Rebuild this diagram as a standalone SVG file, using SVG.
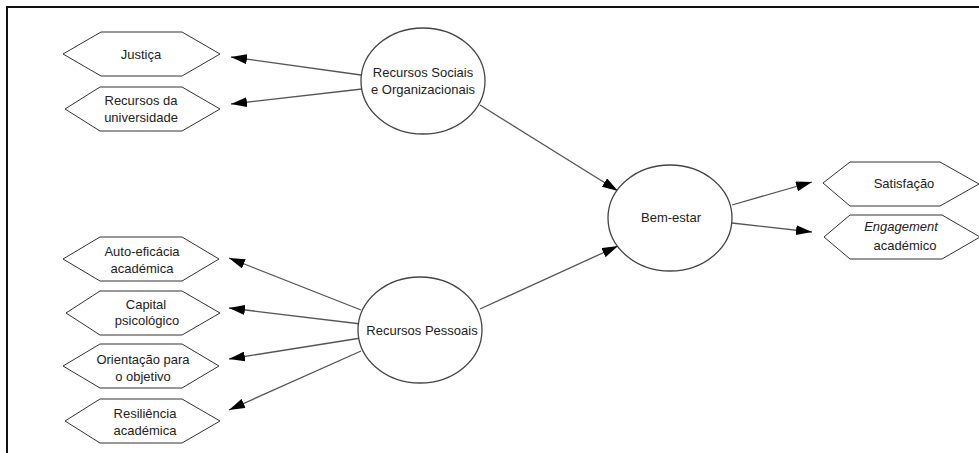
<svg xmlns="http://www.w3.org/2000/svg" width="979" height="453" viewBox="0 0 979 453">
  <defs>
    <style>
      .frame { fill: none; stroke: #111; stroke-width: 2; }
      .hex { fill: #fff; stroke: #333; stroke-width: 1; }
      .ell { fill: #fff; stroke: #444; stroke-width: 1.3; }
      .edge { fill: none; stroke: #555; stroke-width: 1.3; marker-end: url(#arrow); }
      text { font-family: "Liberation Sans", Arial, sans-serif; font-size: 13px; fill: #222; text-anchor: middle; }
      .it { font-style: italic; }
    </style>
    <marker id="arrow" viewBox="0 0 16 10" refX="16" refY="5" markerWidth="16" markerHeight="10" markerUnits="userSpaceOnUse" orient="auto">
      <path d="M0,0 L16,5 L0,10 z" fill="#000"/>
    </marker>
  </defs>

  <rect x="0" y="0" width="979" height="453" fill="#fff"/>
  <path class="frame" d="M7,453 V7 H979"/>

  <g id="connectors">
    <line class="edge" x1="361" y1="75" x2="231" y2="57"/>
    <line class="edge" x1="362" y1="89" x2="231" y2="104"/>
    <line class="edge" x1="480" y1="105" x2="618" y2="191"/>
    <line class="edge" x1="480" y1="309" x2="618" y2="246"/>
    <line class="edge" x1="361" y1="310" x2="229" y2="258"/>
    <line class="edge" x1="361" y1="324" x2="229" y2="308"/>
    <line class="edge" x1="361" y1="338" x2="229" y2="359"/>
    <line class="edge" x1="361" y1="351" x2="229" y2="410"/>
    <line class="edge" x1="732" y1="205" x2="812" y2="182"/>
    <line class="edge" x1="732" y1="223" x2="812" y2="232"/>
  </g>

  <g id="justica">
    <polygon class="hex" points="63,54 101,32 182,32 220,54 182,76 101,76"/>
    <text x="141" y="59">Justiça</text>
  </g>
  <g id="recursos-universidade">
    <polygon class="hex" points="65,109 100,87 182,87 220,109 182,131 100,131"/>
    <text x="141" y="105">Recursos da</text>
    <text x="141" y="122">universidade</text>
  </g>
  <g id="recursos-sociais">
    <ellipse class="ell" cx="423" cy="81" rx="62" ry="53"/>
    <text x="423" y="77">Recursos Sociais</text>
    <text x="423" y="94">e Organizacionais</text>
  </g>
  <g id="auto-eficacia">
    <polygon class="hex" points="63,259 100,237 182,237 219,259 182,281 100,281"/>
    <text x="142" y="256">Auto-eficácia</text>
    <text x="142" y="273">académica</text>
  </g>
  <g id="capital-psicologico">
    <polygon class="hex" points="66,313 100,291 182,291 220,313 182,335 100,335"/>
    <text x="146" y="309">Capital</text>
    <text x="147" y="325">psicológico</text>
  </g>
  <g id="orientacao-objetivo">
    <polygon class="hex" points="63,366 100,344 182,344 219,366 182,388 100,388"/>
    <text x="143" y="364">Orientação para</text>
    <text x="143" y="381">o objetivo</text>
  </g>
  <g id="resiliencia">
    <polygon class="hex" points="65,421 100,399 182,399 220,421 182,443 100,443"/>
    <text x="145" y="418">Resiliência</text>
    <text x="145" y="435">académica</text>
  </g>
  <g id="recursos-pessoais">
    <ellipse class="ell" cx="420" cy="330" rx="62" ry="53"/>
    <text x="422" y="335">Recursos Pessoais</text>
  </g>
  <g id="bem-estar">
    <ellipse class="ell" cx="670" cy="218" rx="62" ry="53"/>
    <text x="671" y="222">Bem-estar</text>
  </g>
  <g id="satisfacao">
    <polygon class="hex" points="823,183 850,162 940,162 979,184 940,206 850,206"/>
    <text x="904" y="188">Satisfação</text>
  </g>
  <g id="engagement">
    <polygon class="hex" points="824,237 850,215 942,215 980,237 942,259 850,259"/>
    <text x="901" y="231" class="it">Engagement</text>
    <text x="905" y="250">académico</text>
  </g>
</svg>
